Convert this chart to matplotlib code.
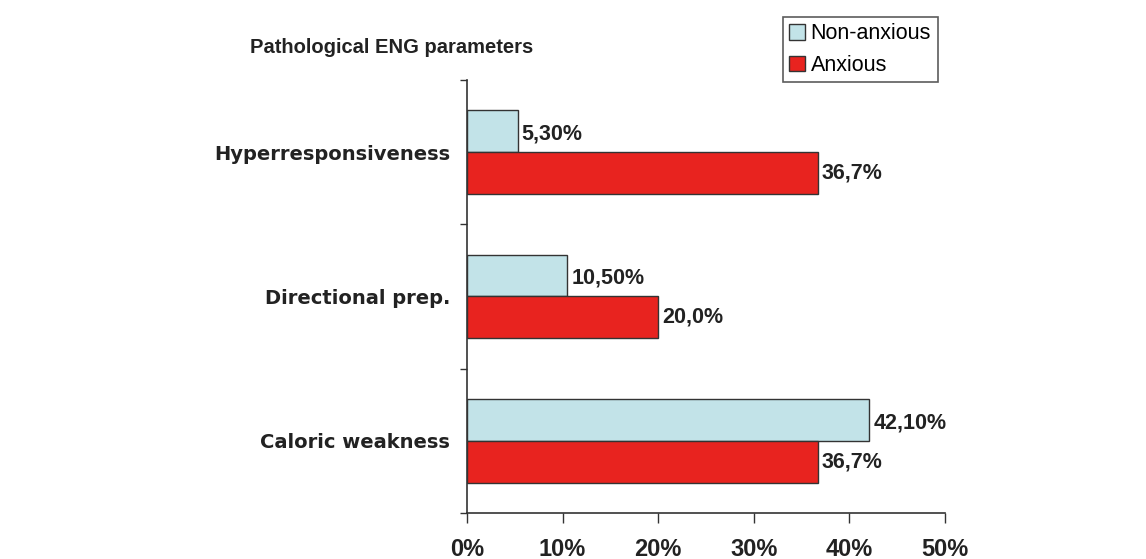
import matplotlib
matplotlib.use("Agg")
import matplotlib.pyplot as plt
import numpy as np

categories = ["Hyperresponsiveness", "Directional prep.", "Caloric weakness"]
non_anxious = [5.3, 10.5, 42.1]
anxious = [36.7, 20.0, 36.7]
non_anxious_labels = ["5,30%", "10,50%", "42,10%"]
anxious_labels = ["36,7%", "20,0%", "36,7%"]
xticks = [0, 10, 20, 30, 40, 50]
xtick_labels = ["0%", "10%", "20%", "30%", "40%", "50%"]

plt.rcParams['font.family'] = ['Liberation Sans', 'DejaVu Sans']
txt = "#222222"

fig = plt.figure(figsize=(11.46, 5.59), dpi=100)

ax = fig.add_axes([0.4075, 0.0823, 0.4171, 0.7747])

n = len(categories)
y = np.arange(n)[::-1].astype(float)  # top category first
h = 0.29
b1 = ax.barh(y + h / 2, non_anxious, height=h, color="#c2e3e8", edgecolor="#333333",
             linewidth=1.0, label="Non-anxious")
b2 = ax.barh(y - h / 2, anxious, height=h, color="#e8231f", edgecolor="#333333",
             linewidth=1.0, label="Anxious")

for rect, lab in zip(b1, non_anxious_labels):
    ax.text(rect.get_width() + 0.4, rect.get_y() + rect.get_height() / 2 - 0.02, lab,
            ha="left", va="center", fontsize=15.5, fontweight="bold", color=txt)
for rect, lab in zip(b2, anxious_labels):
    ax.text(rect.get_width() + 0.4, rect.get_y() + rect.get_height() / 2, lab,
            ha="left", va="center", fontsize=15.5, fontweight="bold", color=txt)

ax.set_xlim(0, 50)
ax.set_ylim(-0.5, n - 0.5)
ax.set_xticks(xticks)
ax.set_xticklabels(xtick_labels, fontsize=17, fontweight="bold", color=txt)
ax.tick_params(axis="x", direction="out", length=7, width=1, color="#333333", pad=11)

ax.set_yticks(y)
ax.set_yticklabels(categories, fontsize=14, fontweight="bold", color=txt,
                   family=['DejaVu Sans'])
ax.tick_params(axis="y", which="major", length=0, pad=12)
ax.set_yticks(np.arange(n + 1) - 0.5, minor=True)
ax.tick_params(axis="y", which="minor", direction="out", length=5, width=1, color="#333333")

for s in ["top", "right"]:
    ax.spines[s].set_visible(False)
for s in ["left", "bottom"]:
    ax.spines[s].set_color("#333333")
    ax.spines[s].set_linewidth(1.2)

fig.text(0.342, 0.915, "Pathological ENG parameters", ha="center", va="center",
         fontsize=14.5, fontweight="bold", color=txt)

leg = fig.legend(handles=[b1, b2], loc="upper left", bbox_to_anchor=(0.683, 0.97),
                 frameon=True, fancybox=False, edgecolor="#333333", fontsize=15.5,
                 handlelength=0.75, handleheight=0.75, handletextpad=0.25,
                 borderpad=0.3, labelspacing=0.5, borderaxespad=0)
leg.get_frame().set_linewidth(1.2)

fig.savefig("out.png", dpi=100, facecolor="white")
